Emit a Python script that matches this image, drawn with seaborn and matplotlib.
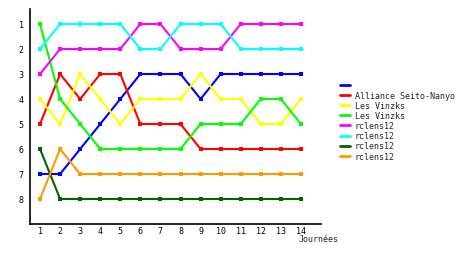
import matplotlib
matplotlib.use("Agg")
import matplotlib.pyplot as plt
import seaborn as sns
import pandas as pd

days = list(range(1, 15))
labels = ["", "Alliance Seito-Nanyo", "Les Vinzks", "Les Vinzks",
          "rclens12", "rclens12", "rclens12", "rclens12"]
colors = ["#0000FF", "#FF0000", "#FFFF00", "#00FF00",
          "#FF00FF", "#00FFFF", "#006400", "#FF9900"]
blue = [7, 7, 6, 5, 4, 3, 3, 3, 4, 3, 3, 3, 3, 3]
red = [5, 3, 4, 3, 3, 5, 5, 5, 6, 6, 6, 6, 6, 6]
yellow = [4, 5, 3, 4, 5, 4, 4, 4, 3, 4, 4, 5, 5, 4]
lime = [1, 4, 5, 6, 6, 6, 6, 6, 5, 5, 5, 4, 4, 5]
magenta = [3, 2, 2, 2, 2, 1, 1, 2, 2, 2, 1, 1, 1, 1]
cyan = [2, 1, 1, 1, 1, 2, 2, 1, 1, 1, 2, 2, 2, 2]
darkgreen = [6, 8, 8, 8, 8, 8, 8, 8, 8, 8, 8, 8, 8, 8]
orange = [8, 6, 7, 7, 7, 7, 7, 7, 7, 7, 7, 7, 7, 7]
series = [blue, red, yellow, lime, magenta, cyan, darkgreen, orange]

sns.set_style("white")
plt.rcParams['font.family'] = ['DejaVu Sans Mono']

fig = plt.figure(figsize=(4.6, 2.55), dpi=100)
ax = fig.add_axes([30/460, 30/255, 291/460, 215/255])

for i, (vals, lab, col) in enumerate(zip(series, labels, colors)):
    df = pd.DataFrame({"day": days, "rank": vals})
    sns.lineplot(data=df, x="day", y="rank", ax=ax, color=col, label=lab if lab else " ",
                 linewidth=1.5, marker="s", markersize=2.8, markeredgewidth=0,
                 markeredgecolor=col)

ax.set_xlim(0.5, 15)
ax.set_ylim(9, 0.4)
ax.set_xticks(days)
ax.set_yticks(range(1, 9))
ax.tick_params(axis='both', length=0, labelsize=6, colors='black')
ax.tick_params(axis='x', pad=1.5)
ax.tick_params(axis='y', pad=4.5)
ax.set_xlabel("")
ax.set_ylabel("")
for s in ["top", "right"]:
    ax.spines[s].set_visible(False)
for s in ["left", "bottom"]:
    ax.spines[s].set_color("black")
    ax.spines[s].set_linewidth(1.2)

fig.text(299/460, 1 - 240/255, "Journées", fontsize=6, va="center", ha="left")

h, l = ax.get_legend_handles_labels()
ax.get_legend().remove()
fig.legend(h, l, loc="upper left", bbox_to_anchor=(340/460, 1 - 82/255),
           frameon=False, fontsize=6, handlelength=1.2, handletextpad=0.55,
           labelspacing=0.13, borderpad=0, borderaxespad=0)
for line in fig.legends[0].get_lines():
    line.set_marker("")
    line.set_linewidth(2)

fig.savefig("out.png", dpi=100)
